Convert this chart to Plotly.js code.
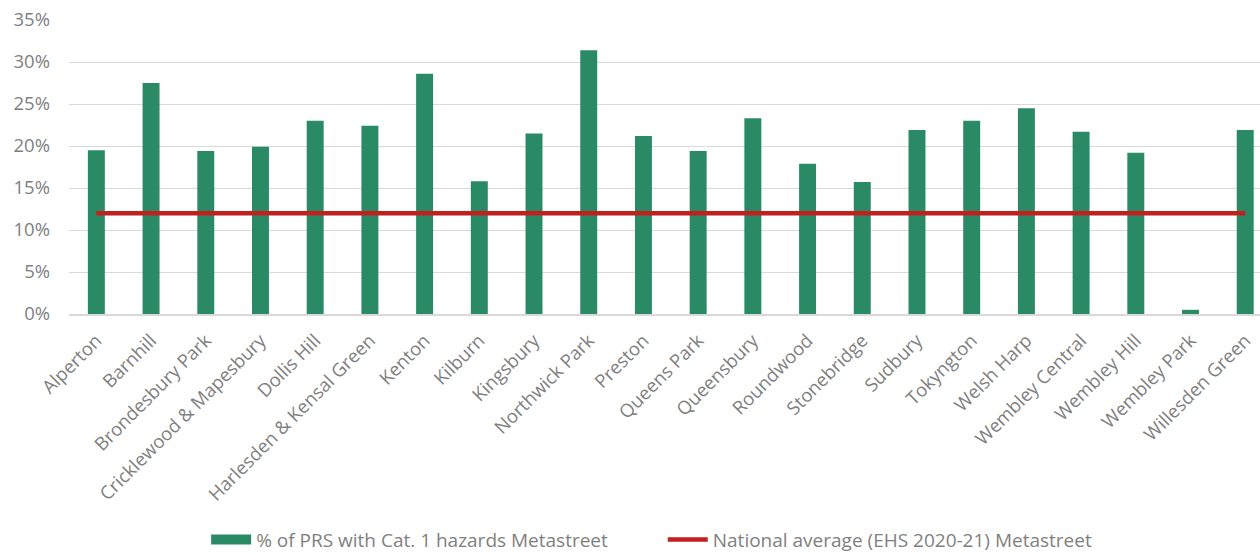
<!DOCTYPE html>
<html>
<head>
<meta charset="utf-8">
<script src="https://cdn.plot.ly/plotly-3.0.1.min.js"></script>
<style>
  html, body { margin: 0; padding: 0; background: #fff; }
  #chart { width: 1260px; height: 554px; }
</style>
</head>
<body>
<div id="chart"></div>
<script>
// Brent wards
const wards = [
  "Alperton", "Barnhill", "Brondesbury Park", "Cricklewood & Mapesbury",
  "Dollis Hill", "Harlesden & Kensal Green", "Kenton", "Kilburn",
  "Kingsbury", "Northwick Park", "Preston", "Queens Park", "Queensbury",
  "Roundwood", "Stonebridge", "Sudbury", "Tokyngton", "Welsh Harp",
  "Wembley Central", "Wembley Hill", "Wembley Park", "Willesden Green"
];

// Share of private rented homes with Category 1 hazards (%)
const prsHazardPct = [
  19.5, 27.5, 19.4, 19.9,
  23.0, 22.4, 28.6, 15.8,
  21.5, 31.4, 21.2, 19.4, 23.3,
  17.9, 15.7, 21.9, 23.0, 24.5,
  21.7, 19.2, 0.5, 21.9
];

// National average, EHS 2020-21 (%)
const nationalAvgPct = 12;

const seriesNames = [
  "% of PRS with Cat. 1 hazards Metastreet",
  "National average (EHS 2020-21) Metastreet"
];

const yTicks = [0, 5, 10, 15, 20, 25, 30, 35];

const GREEN = "#2b8a66";
const RED = "#c0211f";
const GREY_TEXT = "#7f7f7f";
const FONT = "'Open Sans', 'Noto Sans', sans-serif";
const FS = 18.5;
const LEGEND_FS = 19;

const traces = [
  {
    type: "bar",
    x: wards,
    y: prsHazardPct,
    marker: { color: GREEN },
    showlegend: false,
    hoverinfo: "x+y"
  },
  // legend swatch for the bars (wide block)
  {
    type: "scatter",
    mode: "lines",
    x: [null],
    y: [null],
    name: seriesNames[0],
    legend: "legend",
    line: { color: GREEN, width: 11 },
    hoverinfo: "skip"
  },
  {
    type: "scatter",
    mode: "lines",
    x: wards,
    y: wards.map(() => nationalAvgPct),
    name: seriesNames[1],
    legend: "legend2",
    line: { color: RED, width: 4.5 },
    hoverinfo: "x+y"
  }
];

const legendBase = {
  orientation: "h",
  xref: "container",
  xanchor: "left",
  yref: "container",
  y: 0.026,
  yanchor: "middle",
  font: { family: FONT, size: LEGEND_FS, color: GREY_TEXT },
  itemwidth: 40,
  bgcolor: "rgba(0,0,0,0)"
};

const layout = {
  width: 1260,
  height: 554,
  margin: { l: 69, r: 0, t: 20, b: 240, pad: 0 },
  paper_bgcolor: "#ffffff",
  plot_bgcolor: "#ffffff",
  font: { family: FONT, size: FS, color: GREY_TEXT },
  bargap: 0.69,
  xaxis: {
    type: "category",
    range: [-0.5, 21.27],
    tickangle: -45,
    showgrid: false,
    showline: true,
    linecolor: "#d9d9d9",
    linewidth: 1.5,
    ticks: "",
    ticklabelstandoff: 7,
    tickfont: { family: FONT, size: FS, color: GREY_TEXT },
    fixedrange: true
  },
  yaxis: {
    range: [0, 35],
    tickvals: yTicks,
    ticktext: yTicks.map(v => v + "%"),
    showgrid: true,
    gridcolor: "#d9d9d9",
    gridwidth: 1,
    zeroline: false,
    showline: false,
    ticks: "",
    ticklabelstandoff: 18,
    tickfont: { family: FONT, size: FS, color: GREY_TEXT },
    fixedrange: true
  },
  showlegend: true,
  legend: Object.assign({}, legendBase, { x: 0.1636 }),
  legend2: Object.assign({}, legendBase, { x: 0.526 })
};

Plotly.newPlot("chart", traces, layout, { displayModeBar: false, staticPlot: true });
</script>
</body>
</html>
